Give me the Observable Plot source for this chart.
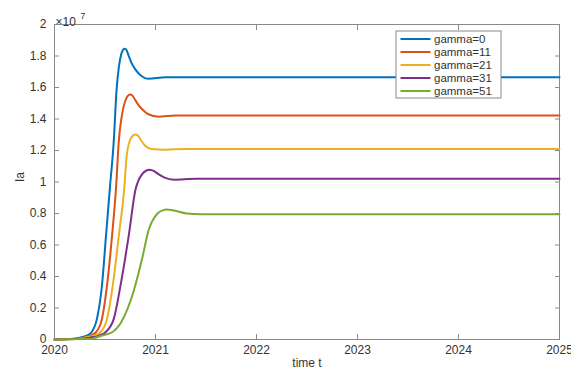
<!DOCTYPE html>
<html>
<head>
<meta charset="utf-8">
<script src="https://cdn.jsdelivr.net/npm/d3@7"></script>
<script src="https://cdn.jsdelivr.net/npm/@observablehq/plot@0.6"></script>
<style>
  body { margin: 0; background: #fff; }
  #chart svg { display: block; }
</style>
</head>
<body>
<div id="chart"></div>
<script>
// Infected population Ia over time for several values of gamma (Ia in units of 10^7)
const seriesNames = ["gamma=0", "gamma=11", "gamma=21", "gamma=31", "gamma=51"];
const seriesColors = ["#0072BD", "#D95319", "#EDB120", "#7E2F8E", "#77AC30"];
const xTicks = [2020, 2021, 2022, 2023, 2024, 2025];
const yTicks = [0, 0.2, 0.4, 0.6, 0.8, 1, 1.2, 1.4, 1.6, 1.8, 2];

const tGamma0  = [2020, 2020.15, 2020.25, 2020.32, 2020.366, 2020.42, 2020.47, 2020.51, 2020.548, 2020.587, 2020.614, 2020.637, 2020.66, 2020.68, 2020.696, 2020.713, 2020.735, 2020.76, 2020.80, 2020.868, 2020.93, 2021.1, 2025];
const iaGamma0 = [0, 0.003, 0.012, 0.025, 0.046, 0.131, 0.343, 0.66, 0.96, 1.263, 1.58, 1.729, 1.81, 1.84, 1.846, 1.838, 1.80, 1.76, 1.715, 1.67, 1.655, 1.665, 1.665];

const tGamma11  = [2020, 2020.2, 2020.28, 2020.356, 2020.41, 2020.47, 2020.52, 2020.57, 2020.61, 2020.637, 2020.67, 2020.71, 2020.735, 2020.752, 2020.77, 2020.80, 2020.83, 2020.868, 2020.93, 2021.03, 2021.2, 2025];
const iaGamma11 = [0, 0.004, 0.012, 0.025, 0.046, 0.131, 0.343, 0.66, 0.97, 1.263, 1.433, 1.53, 1.552, 1.556, 1.55, 1.52, 1.49, 1.462, 1.43, 1.415, 1.422, 1.422];

const tGamma21  = [2020, 2020.2, 2020.3, 2020.39, 2020.455, 2020.52, 2020.577, 2020.637, 2020.693, 2020.713, 2020.75, 2020.78, 2020.80, 2020.825, 2020.86, 2020.90, 2020.96, 2021.10, 2021.3, 2025];
const iaGamma21 = [0, 0.003, 0.012, 0.025, 0.046, 0.131, 0.343, 0.66, 0.978, 1.157, 1.27, 1.296, 1.302, 1.295, 1.262, 1.228, 1.21, 1.205, 1.21, 1.21];

const tGamma31  = [2020, 2020.25, 2020.35, 2020.44, 2020.505, 2020.587, 2020.65, 2020.735, 2020.80, 2020.868, 2020.91, 2020.94, 2020.97, 2021.03, 2021.09, 2021.18, 2021.4, 2025];
const iaGamma31 = [0, 0.004, 0.012, 0.025, 0.046, 0.131, 0.33, 0.66, 0.946, 1.05, 1.073, 1.078, 1.074, 1.05, 1.028, 1.015, 1.02, 1.02];

const tGamma51  = [2020, 2020.35, 2020.47, 2020.57, 2020.66, 2020.785, 2020.87, 2020.93, 2021.02, 2021.07, 2021.115, 2021.17, 2021.31, 2021.45, 2025];
const iaGamma51 = [0, 0.004, 0.025, 0.046, 0.11, 0.31, 0.52, 0.69, 0.80, 0.82, 0.825, 0.82, 0.80, 0.795, 0.795];

const seriesT  = [tGamma0, tGamma11, tGamma21, tGamma31, tGamma51];
const seriesIa = [iaGamma0, iaGamma11, iaGamma21, iaGamma31, iaGamma51];

const rows = seriesNames.flatMap((name, i) =>
  seriesT[i].map((t, j) => ({series: name, t, ia: seriesIa[i][j]}))
);

const axisColor = "#8a8a8a";
const textColor = "#333333";
const font = "'Liberation Sans', Arial, sans-serif";

const chart = Plot.plot({
  width: 571,
  height: 374,
  marginLeft: 54,
  marginRight: 12,
  marginTop: 24,
  marginBottom: 35,
  style: {fontFamily: font, fontSize: "12px", color: textColor, background: "#fff"},
  x: {domain: [2020, 2025]},
  y: {domain: [0, 2]},
  color: {domain: seriesNames, range: seriesColors},
  marks: [
    Plot.frame({stroke: axisColor}),
    Plot.axisX({anchor: "bottom", ticks: xTicks, tickFormat: d => String(d), tickSize: -5, tickPadding: 10.5, stroke: axisColor, fill: textColor, label: null}),
    Plot.axisX({anchor: "top", ticks: xTicks, tickFormat: () => "", tickSize: -5, stroke: axisColor, label: null}),
    Plot.axisY({anchor: "left", ticks: yTicks, tickFormat: d => String(+d.toFixed(1)), tickSize: -5, tickPadding: 13, stroke: axisColor, fill: textColor, label: null}),
    Plot.axisY({anchor: "right", ticks: yTicks, tickFormat: () => "", tickSize: -5, stroke: axisColor, label: null}),
    Plot.line(rows, {x: "t", y: "ia", z: "series", stroke: "series", strokeWidth: 2, curve: "monotone-x"}),
    Plot.text(["time t"], {text: d => d, frameAnchor: "bottom", dy: 27, fill: textColor, fontSize: 12}),
    Plot.text(["Ia"], {text: d => d, frameAnchor: "left", dx: -34, rotate: -90, fill: textColor, fontSize: 12}),
    Plot.text(["\u00d710"], {text: d => d, frameAnchor: "top-left", textAnchor: "start", dx: 1, dy: -7, fill: textColor, fontSize: 12}),
    Plot.text(["7"], {text: d => d, frameAnchor: "top-left", textAnchor: "start", dx: 26, dy: -12, fill: textColor, fontSize: 8.5})
  ]
});

document.getElementById("chart").appendChild(chart);

// Legend box with line samples, drawn inside the plot area
const svg = d3.select(chart);
const legend = svg.append("g").attr("transform", "translate(396,31)");
legend.append("rect")
  .attr("width", 105).attr("height", 67)
  .attr("fill", "#fff").attr("stroke", axisColor).attr("stroke-width", 1);
seriesNames.forEach((name, i) => {
  const y = 8 + i * 13;
  legend.append("line")
    .attr("x1", 4.5).attr("x2", 34.5).attr("y1", y).attr("y2", y)
    .attr("stroke", seriesColors[i]).attr("stroke-width", 2);
  legend.append("text")
    .attr("x", 38).attr("y", y).attr("dy", "0.35em")
    .attr("text-anchor", "start")
    .attr("font-family", font).attr("font-size", 11.5).attr("fill", textColor)
    .text(name);
});
</script>
</body>
</html>
